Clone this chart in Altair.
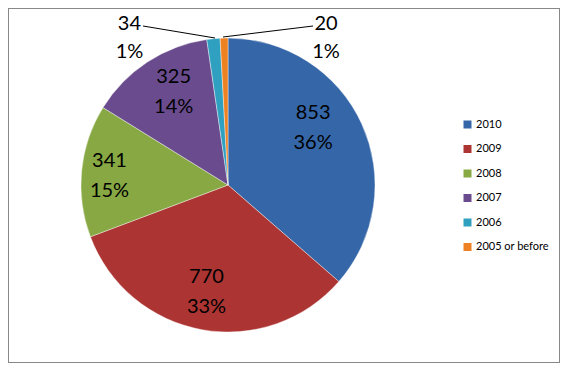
import altair as alt
import pandas as pd

years = ["2010", "2009", "2008", "2007", "2006", "2005 or before"]
counts = [853, 770, 341, 325, 34, 20]
colors = ["#3566A8", "#AC3533", "#87A843", "#6A4C8E", "#30A0C0", "#EE8121"]

total = sum(counts)
df = pd.DataFrame({
    "year": years,
    "count": counts,
    "idx": list(range(len(years))),
})
df["label"] = [f"{c}\n{round(c / total * 100)}%" for c in counts]

W, H = 552, 355
CX, CY = 220, 177
R = 147
FONT = "Lato"

base = alt.Chart(df)

theta = alt.Theta("count:Q", stack=True)
order = alt.Order("idx:Q")

pie = base.mark_arc(outerRadius=R, stroke="#ffffff", strokeWidth=0.4).encode(
    theta=theta,
    order=order,
    x=alt.value(CX),
    y=alt.value(CY),
    color=alt.Color(
        "year:N",
        scale=alt.Scale(domain=years, range=colors),
        sort=years,
        legend=alt.Legend(
            title=None,
            orient="none",
            legendX=454,
            legendY=111,
            symbolType="square",
            symbolSize=64,
            symbolStrokeWidth=0,
            labelFont=FONT,
            labelFontSize=11,
            labelColor="#000000",
            labelOffset=3,
            rowPadding=12.5,
            padding=0,
        ),
    ),
)


def label_layer(year, radius, dx, dy, lh=30):
    return base.mark_text(
        radius=radius,
        dx=dx,
        dy=dy - lh / 2,
        font=FONT,
        fontSize=20,
        lineBreak="\n",
        lineHeight=lh,
        align="center",
        baseline="middle",
        color="#000000",
    ).encode(
        theta=theta,
        order=order,
        x=alt.value(CX),
        y=alt.value(CY),
        text=alt.condition(
            alt.datum.year == year, alt.Text("label:N"), alt.value("")
        ),
    )


labels = [
    label_layer("2010", 110, -15, -11),
    label_layer("2009", 110, -2, -1),
    label_layer("2008", 110, -9, 2),
    label_layer("2007", 110, 6, -1),
    label_layer("2006", 147, -84, -1, 28),
    label_layer("2005 or before", 147, 102, 0, 28),
]

leader_34 = base.mark_rule(color="#000000", strokeWidth=1).encode(
    x=alt.value(135), y=alt.value(18), x2=alt.value(207), y2=alt.value(30)
).transform_filter(alt.datum.year == "2006")
leader_20 = base.mark_rule(color="#000000", strokeWidth=1).encode(
    x=alt.value(215), y=alt.value(29), x2=alt.value(305), y2=alt.value(18)
).transform_filter(alt.datum.year == "2005 or before")

chart = alt.layer(pie, *labels, leader_34, leader_20).properties(
    width=W,
    height=H,
    autosize=alt.AutoSizeParams(type="none"),
    padding=0,
    background="#ffffff",
).configure_view(stroke="#888888", strokeWidth=2)

chart.save("out.html", embed_options={"renderer": "svg", "actions": False})
